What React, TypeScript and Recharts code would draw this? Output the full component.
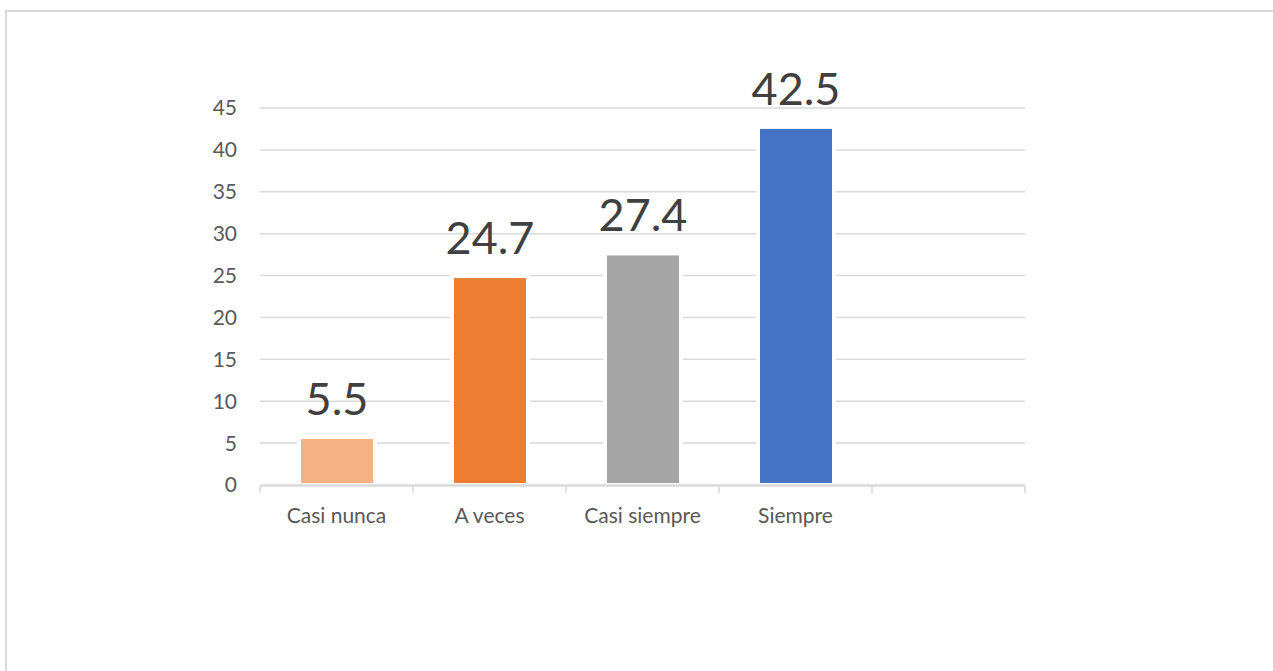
import { BarChart, Bar, XAxis, YAxis, CartesianGrid, Cell, LabelList } from 'recharts'

const categories = ['Casi nunca', 'A veces', 'Casi siempre', 'Siempre', '']
const values: (number | null)[] = [5.5, 24.7, 27.4, 42.5, null]
const colors = ['#F4B183', '#ED7D31', '#A5A5A5', '#4472C4', '#FFFFFF']
const yTicks = [0, 5, 10, 15, 20, 25, 30, 35, 40, 45]
const edgeTicks = [0, 1, 2, 3, 4, 5]

// slot = category index, only used by the boundary tick axis
const data = categories.map((name, i) => ({ name, value: values[i], slot: i }))

const FONT = 'Lato, "Open Sans", sans-serif'

// bar with a thin white halo, like the office export
function HaloBar(props: any) {
  const { x, y, width, height, fill } = props
  if (height == null || height <= 0) return null
  return (
    <g>
      <rect x={x - 4} y={y - 4} width={width + 8} height={height + 2} fill="#ffffff" />
      <rect x={x} y={y} width={width} height={height - 2} fill={fill} />
    </g>
  )
}

export default function App() {
  return (
    <div style={{ position: 'fixed', inset: 0, overflow: 'hidden', background: '#fff' }}>
      {/* frame */}
      <div
        style={{
          position: 'absolute',
          left: 5,
          top: 10,
          width: 1400,
          height: 800,
          border: '2px solid #d9d9d9',
        }}
      />
      <div style={{ position: 'absolute', left: 0, top: 0 }}>
        <BarChart
          width={1273}
          height={671}
          data={data}
          margin={{ top: 108, right: 248, bottom: 184, left: 200 }}
        >
          <CartesianGrid
            xAxisId="cat"
            vertical={false}
            stroke="#d9d9d9"
            strokeWidth={1.5}
          />
          <XAxis
            xAxisId="edge"
            dataKey="slot"
            type="number"
            domain={[0, 5]}
            allowDataOverflow
            ticks={edgeTicks}
            height={1}
            tickFormatter={() => ''}
            tick={{ fontSize: 1, fill: 'transparent' }}
            tickSize={7}
            axisLine={{ stroke: '#d9d9d9', strokeWidth: 1.5 }}
            tickLine={{ stroke: '#d9d9d9', strokeWidth: 1.5 }}
          />
          <XAxis
            xAxisId="cat"
            dataKey="name"
            height={1}
            axisLine={false}
            tickLine={false}
            tickSize={0}
            tickMargin={23}
            interval={0}
            tick={{ fontSize: 21, fill: '#595959', fontFamily: FONT }}
          />
          <YAxis
            width={60}
            domain={[0, 45]}
            ticks={yTicks}
            axisLine={false}
            tickLine={false}
            tickSize={0}
            tickMargin={23}
            tick={{ fontSize: 21, fill: '#595959', fontFamily: FONT }}
          />
          <Bar
            xAxisId="cat"
            dataKey="value"
            barSize={72}
            isAnimationActive={false}
            shape={HaloBar}
          >
            {data.map((d, i) => (
              <Cell key={d.name + i} fill={colors[i]} />
            ))}
            <LabelList
              dataKey="value"
              position="top"
              offset={24}
              fill="#404040"
              fontSize={45}
              fontFamily={FONT}
            />
          </Bar>
        </BarChart>
      </div>
    </div>
  )
}
